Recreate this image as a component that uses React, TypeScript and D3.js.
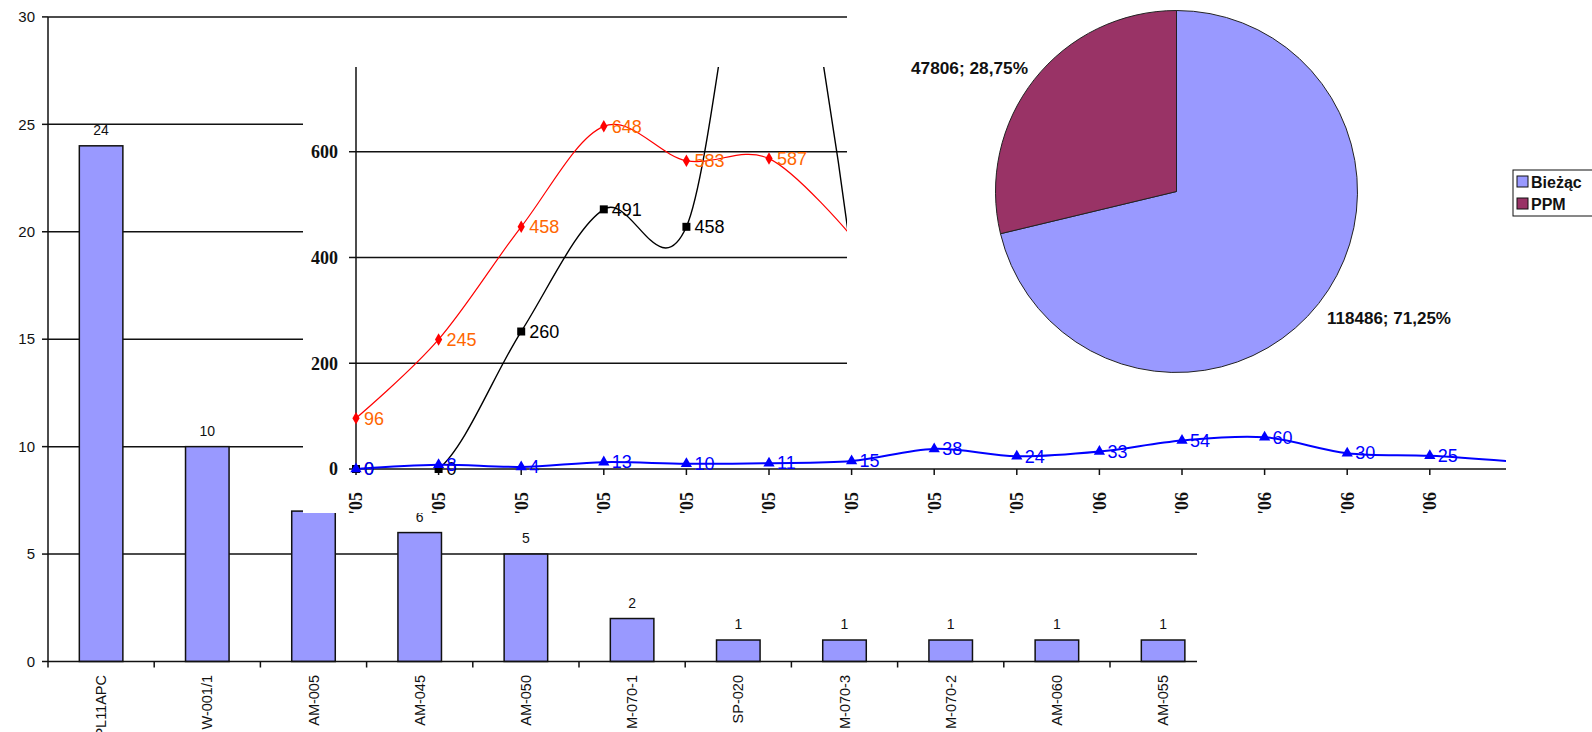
import React from 'react';
import * as d3 from 'd3';

// ---------- data ----------
const barCategories = ['PL11APC', 'W-001/1', 'AM-005', 'AM-045', 'AM-050', 'M-070-1', 'SP-020', 'M-070-3', 'M-070-2', 'AM-060', 'AM-055'];
const barValues = [24, 10, 7, 6, 5, 2, 1, 1, 1, 1, 1];
const barTicks = [0, 5, 10, 15, 20, 25, 30];

const lineCategories = ["'05", "'05", "'05", "'05", "'05", "'05", "'05", "'05", "'05", "'06", "'06", "'06", "'06", "'06", "'06"];
const redValues = [96, 245, 458, 648, 583, 587, 440];
const blackValues = [0, 0, 260, 491, 458, 1200, 400];
const blueValues = [0, 8, 4, 13, 10, 11, 15, 38, 24, 33, 54, 60, 30, 25, 14];
const lineTicks = [0, 200, 400, 600];

const pieNames = ['Bieżąc', 'PPM'];
const pieValues = [118486, 47806];
const pieColors = ['#9999FF', '#993366'];

const SANS = '"Liberation Sans", Arial, sans-serif';
const SERIF = '"Liberation Serif", "Times New Roman", serif';

export default function App() {
  // ---------- bar chart ----------
  const bx0 = 48;
  const bStep = 106.2;
  const xBar = d3.scaleBand<string>().domain(barCategories).range([bx0, bx0 + bStep * barCategories.length]).padding(0);
  const yBar = d3.scaleLinear().domain([0, 30]).range([661.5, 16.9]);
  const barW = xBar.bandwidth() * 0.41;
  const barRight = 1197;

  // ---------- line chart ----------
  const xLine = d3.scaleLinear().domain([0, 14]).range([356, 356 + 14 * 82.6]);
  const yLine = d3.scaleLinear().domain([0, 800]).range([469, 469 - 800 * 0.5288]);
  const lineGen = d3.line<number>().x((_, i) => xLine(i)).y((d) => yLine(d)).curve(d3.curveCardinal.tension(0));
  const lbox = { x0: 303, y0: 67, x1: 1506, y1: 513 };

  const diamond = d3.symbol().type(d3.symbolDiamond).size(45)()!;
  const square = d3.symbol().type(d3.symbolSquare).size(64)()!;
  const triangle = d3.symbol().type(d3.symbolTriangle).size(55)()!;

  // ---------- pie ----------
  const pcx = 1176.5, pcy = 191.5, pr = 181;
  const pie = d3.pie<number>().sort(null).value((d) => d)(pieValues);
  const arc = d3.arc<d3.PieArcDatum<number>>().innerRadius(0).outerRadius(pr);
  const total = d3.sum(pieValues);
  const pct = (v: number) => (v / total * 100).toFixed(2).replace('.', ',') + '%';

  const series = [
    { values: redValues, color: '#FF0000', width: 1.2, marker: diamond, labelColor: '#FF6600' },
    { values: blackValues, color: '#000000', width: 1.4, marker: square, labelColor: '#000000' },
    { values: blueValues, color: '#0000FF', width: 2, marker: triangle, labelColor: '#0000FF' },
  ];

  return (
    <svg width={1592} height={732} style={{ position: 'absolute', left: 0, top: 0, display: 'block', background: '#fff' }}>
      <defs>
        <clipPath id="barClip"><rect x={0} y={0} width={barRight} height={732} /></clipPath>
        <clipPath id="lineClip"><rect x={lbox.x0} y={lbox.y0} width={lbox.x1 - lbox.x0} height={lbox.y1 - lbox.y0} /></clipPath>
        <clipPath id="linePlotClip"><rect x={lbox.x0} y={lbox.y0} width={lbox.x1 - lbox.x0} height={469 - lbox.y0 + 1} /></clipPath>
      </defs>
      <rect x={0} y={0} width={1592} height={732} fill="#fff" />

      {/* ===== bar chart ===== */}
      <g clipPath="url(#barClip)">
        {barTicks.filter((t) => t > 0).map((t) => (
          <line key={'g' + t} x1={bx0} x2={barRight} y1={yBar(t)} y2={yBar(t)} stroke="#111" strokeWidth={1.5} />
        ))}
        {barTicks.map((t) => (
          <g key={'t' + t}>
            <line x1={bx0 - 6} x2={bx0} y1={yBar(t)} y2={yBar(t)} stroke="#111" strokeWidth={1.5} />
            <text x={bx0 - 13} y={yBar(t)} dy="0.35em" textAnchor="end" fontFamily={SANS} fontSize={15} fill="#111">{t}</text>
          </g>
        ))}
        {barCategories.map((c, i) => {
          const cx = (xBar(c) as number) + xBar.bandwidth() / 2;
          return (
            <g key={c}>
              <rect x={cx - barW / 2} y={yBar(barValues[i])} width={barW} height={yBar(0) - yBar(barValues[i])} fill="#9999FF" stroke="#111" strokeWidth={1.5} />
              <text x={cx} y={yBar(barValues[i]) - 11} textAnchor="middle" fontFamily={SANS} fontSize={14} fill="#111">{barValues[i]}</text>
              <text transform={`translate(${cx},675) rotate(-90)`} dy="0.35em" textAnchor="end" fontFamily={SANS} fontSize={14.5} fill="#111">{c}</text>
            </g>
          );
        })}
        {d3.range(barCategories.length + 1).map((i) => (
          <line key={'xt' + i} x1={bx0 + i * bStep} x2={bx0 + i * bStep} y1={yBar(0)} y2={yBar(0) + 6} stroke="#111" strokeWidth={1.5} />
        ))}
        <line x1={bx0} x2={barRight} y1={yBar(0)} y2={yBar(0)} stroke="#111" strokeWidth={1.5} />
        <line x1={bx0} x2={bx0} y1={yBar(30)} y2={yBar(0)} stroke="#111" strokeWidth={1.5} />
      </g>

      {/* ===== line chart ===== */}
      <rect x={lbox.x0} y={lbox.y0} width={lbox.x1 - lbox.x0} height={lbox.y1 - lbox.y0} fill="#fff" />
      <g clipPath="url(#lineClip)">
        {lineTicks.filter((t) => t > 0).map((t) => (
          <line key={'lg' + t} x1={xLine(0)} x2={lbox.x1} y1={yLine(t)} y2={yLine(t)} stroke="#111" strokeWidth={1.5} />
        ))}
        {lineTicks.map((t) => (
          <g key={'lt' + t}>
            <line x1={xLine(0) - 7} x2={xLine(0)} y1={yLine(t)} y2={yLine(t)} stroke="#111" strokeWidth={1.5} />
            <text x={xLine(0) - 18} y={yLine(t)} dy="0.35em" textAnchor="end" fontFamily={SERIF} fontWeight="bold" fontSize={18} fill="#111">{t}</text>
          </g>
        ))}
        <line x1={xLine(0)} x2={xLine(0)} y1={lbox.y0} y2={yLine(0)} stroke="#111" strokeWidth={1.5} />
        <line x1={xLine(0)} x2={lbox.x1} y1={yLine(0)} y2={yLine(0)} stroke="#111" strokeWidth={1.5} />
        {lineCategories.map((c, i) => (
          xLine(i) + 8 < lbox.x1 ? (
            <g key={'lx' + i}>
              <line x1={xLine(i)} x2={xLine(i)} y1={yLine(0)} y2={yLine(0) + 6} stroke="#111" strokeWidth={1.5} />
              <text transform={`translate(${xLine(i)},492) rotate(-90)`} dy="0.35em" textAnchor="end" fontFamily={SERIF} fontWeight="bold" fontSize={18} fill="#111">{c}</text>
            </g>
          ) : null
        ))}
        <g clipPath="url(#linePlotClip)">
          {series.map((s, si) => (
            <path key={'p' + si} d={lineGen(s.values) || ''} fill="none" stroke={s.color} strokeWidth={s.width} />
          ))}
        </g>
        {series.map((s, si) => (
          <g key={'m' + si}>
            {s.values.map((v, i) => (
              <g key={i}>
                <path d={s.marker} transform={`translate(${xLine(i)},${yLine(v)})`} fill={s.color} />
                <text x={xLine(i) + 8} y={yLine(v)} dy="0.35em" fontFamily={SANS} fontSize={18} fill={s.labelColor}>{v}</text>
              </g>
            ))}
          </g>
        ))}
      </g>

      {/* ===== pie chart ===== */}
      <rect x={847} y={0} width={1592 - 847} height={400} fill="#fff" />
      <g transform={`translate(${pcx},${pcy})`}>
        {pie.map((d, i) => (
          <path key={'s' + i} d={arc(d) || ''} fill={pieColors[i]} stroke="#222" strokeWidth={1} />
        ))}
      </g>
      <text x={911} y={68} dy="0.35em" fontFamily={SANS} fontWeight="bold" fontSize={17} fill="#111" textLength={117} lengthAdjust="spacingAndGlyphs">{`${pieValues[1]}; ${pct(pieValues[1])}`}</text>
      <text x={1327} y={318} dy="0.35em" fontFamily={SANS} fontWeight="bold" fontSize={17} fill="#111" textLength={124} lengthAdjust="spacingAndGlyphs">{`${pieValues[0]}; ${pct(pieValues[0])}`}</text>
      <g>
        <rect x={1513} y={170} width={100} height={46} fill="#fff" stroke="#111" strokeWidth={1} />
        {pieNames.map((n, i) => (
          <g key={n}>
            <rect x={1517} y={176 + i * 22} width={11} height={11} fill={pieColors[i]} stroke="#111" strokeWidth={1} />
            <text x={1531} y={182 + i * 22} dy="0.35em" fontFamily={SANS} fontWeight="bold" fontSize={16} fill="#111">{n}</text>
          </g>
        ))}
      </g>
    </svg>
  );
}
